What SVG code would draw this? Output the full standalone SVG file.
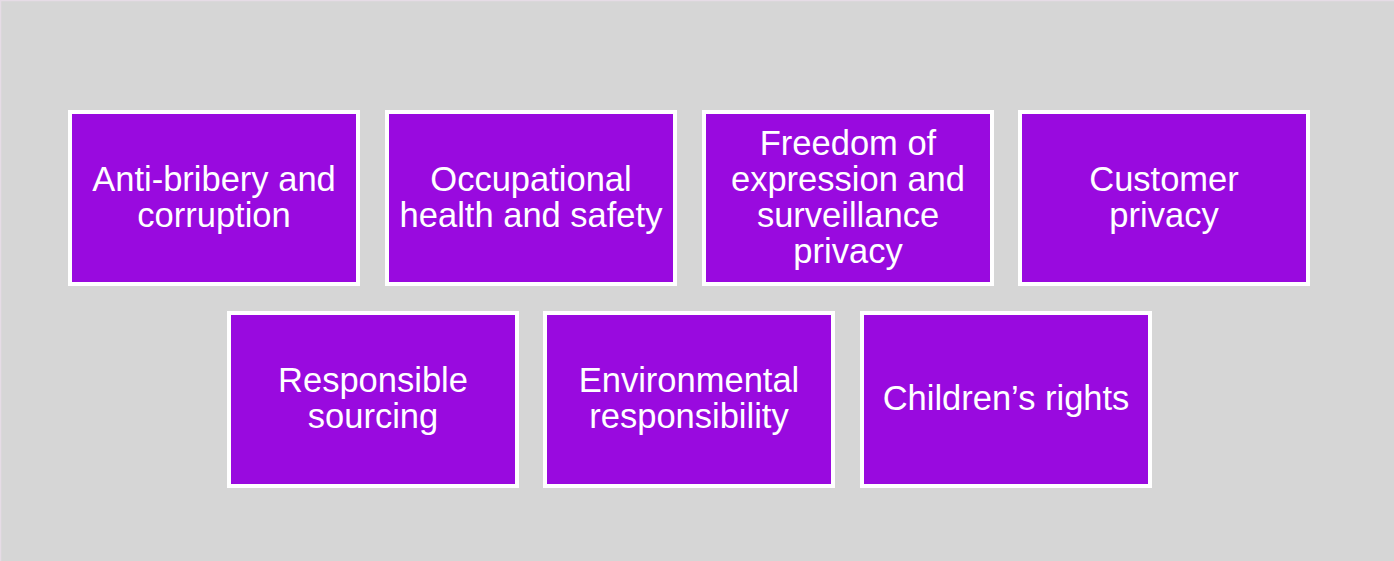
<svg xmlns="http://www.w3.org/2000/svg" width="1394" height="561" viewBox="0 0 1394 561">
<style>
.box{fill:#990ADF;stroke:#FFFFFF;stroke-width:4}
.t{font-family:"Liberation Sans",Arial,sans-serif;font-size:34.5px;fill:#FFFFFF;text-anchor:middle}
</style>
<rect x="0" y="0" width="1394" height="561" fill="#D6D6D6"/>
<path d="M0.5,561 V0.5 H1394" fill="none" stroke="#E6DCE6" stroke-width="1.5"/>
<g id="node-anti-bribery">
<rect class="box" x="70" y="112" width="288" height="172"/>
<text class="t" x="214" y="191">Anti-bribery and</text>
<text class="t" x="214" y="227">corruption</text>
</g>
<g id="node-occupational">
<rect class="box" x="387" y="112" width="288" height="172"/>
<text class="t" x="531" y="191">Occupational</text>
<text class="t" x="531" y="227">health and safety</text>
</g>
<g id="node-freedom">
<rect class="box" x="704" y="112" width="288" height="172"/>
<text class="t" x="848" y="155">Freedom of</text>
<text class="t" x="848" y="191">expression and</text>
<text class="t" x="848" y="227">surveillance</text>
<text class="t" x="848" y="263">privacy</text>
</g>
<g id="node-customer">
<rect class="box" x="1020" y="112" width="288" height="172"/>
<text class="t" x="1164" y="191">Customer</text>
<text class="t" x="1164" y="227">privacy</text>
</g>
<g id="node-responsible">
<rect class="box" x="229" y="313" width="288" height="173"/>
<text class="t" x="373" y="392">Responsible</text>
<text class="t" x="373" y="428">sourcing</text>
</g>
<g id="node-environmental">
<rect class="box" x="545" y="313" width="288" height="173"/>
<text class="t" x="689" y="392">Environmental</text>
<text class="t" x="689" y="428">responsibility</text>
</g>
<g id="node-children">
<rect class="box" x="862" y="313" width="288" height="173"/>
<text class="t" x="1006" y="410">Children’s rights</text>
</g>
<g id="connectors"/>
</svg>
